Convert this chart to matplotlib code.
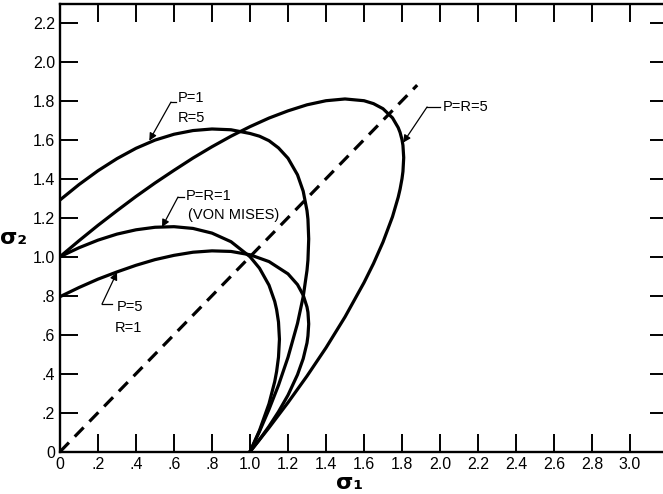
import matplotlib
matplotlib.use('Agg')
import matplotlib.pyplot as plt

# yield loci, going round each curve clockwise from the sigma2 axis
vm_s1 = [0, 0.1, 0.2, 0.3, 0.4, 0.5, 0.6, 0.7, 0.8, 0.9, 1.0, 1.05, 1.1, 1.13, 1.14, 1.15, 1.155,
         1.15, 1.14, 1.13, 1.1, 1.05, 1.0]
vm_s2 = [1.0, 1.046, 1.085, 1.116, 1.138, 1.151, 1.154, 1.145, 1.121, 1.077, 1.0, 0.941, 0.854, 0.771, 0.729, 0.665, 0.577,
         0.485, 0.411, 0.359, 0.246, 0.109, 0.0]

pr5_s1 = [0, 0.1, 0.2, 0.3, 0.4, 0.5, 0.6, 0.7, 0.8, 0.9, 1.0, 1.1, 1.2, 1.3, 1.4, 1.5, 1.6, 1.65, 1.7, 1.75, 1.78,
          1.79, 1.8, 1.805, 1.809, 1.805, 1.8, 1.79, 1.78, 1.75, 1.7, 1.65, 1.6, 1.5, 1.4, 1.3, 1.2, 1.1, 1.0]
pr5_s2 = [1.0, 1.082, 1.161, 1.236, 1.309, 1.378, 1.443, 1.506, 1.564, 1.618, 1.667, 1.711, 1.748, 1.779, 1.800, 1.809,
          1.800, 1.785, 1.759, 1.712, 1.662, 1.637, 1.600, 1.571, 1.508, 1.437, 1.400, 1.347, 1.305, 1.205, 1.075,
          0.965, 0.867, 0.691, 0.533, 0.388, 0.252, 0.123, 0.0]

p1r5_s1 = [0, 0.1, 0.2, 0.3, 0.4, 0.5, 0.6, 0.7, 0.8, 0.9, 1.0, 1.05, 1.1, 1.15, 1.2, 1.25, 1.28, 1.3, 1.305, 1.309,
           1.305, 1.3, 1.28, 1.25, 1.2, 1.15, 1.1, 1.05, 1.0]
p1r5_s2 = [1.291, 1.370, 1.441, 1.503, 1.556, 1.598, 1.628, 1.647, 1.655, 1.651, 1.632, 1.618, 1.595, 1.558, 1.505,
           1.420, 1.336, 1.236, 1.192, 1.091, 0.983, 0.930, 0.795, 0.658, 0.484, 0.341, 0.217, 0.104, 0.0]

p5r1_s1 = [0, 0.1, 0.2, 0.3, 0.4, 0.5, 0.6, 0.7, 0.8, 0.9, 1.0, 1.1, 1.2, 1.25, 1.28, 1.3, 1.305, 1.309,
           1.305, 1.3, 1.28, 1.25, 1.2, 1.15, 1.1, 1.05, 1.0]
p5r1_s2 = [0.795, 0.842, 0.885, 0.922, 0.956, 0.985, 1.007, 1.023, 1.030, 1.027, 1.010, 0.975, 0.912, 0.857, 0.803,
           0.742, 0.715, 0.655, 0.594, 0.558, 0.477, 0.395, 0.290, 0.205, 0.130, 0.062, 0.0]

# equal biaxial line
diag_s = [0, 1.88]

x_ticks = [0, 0.2, 0.4, 0.6, 0.8, 1.0, 1.2, 1.4, 1.6, 1.8, 2.0, 2.2, 2.4, 2.6, 2.8, 3.0]
x_tick_labels = ['0', '.2', '.4', '.6', '.8', '1.0', '1.2', '1.4', '1.6', '1.8', '2.0', '2.2', '2.4', '2.6', '2.8', '3.0']
y_ticks = [0, 0.2, 0.4, 0.6, 0.8, 1.0, 1.2, 1.4, 1.6, 1.8, 2.0, 2.2]
y_tick_labels = ['0', '.2', '.4', '.6', '.8', '1.0', '1.2', '1.4', '1.6', '1.8', '2.0', '2.2']

plt.rcParams['font.family'] = ['Liberation Sans', 'DejaVu Sans']


def leader(ax, tip, elbow, end):
    # thin pointer line with a small filled head on the curve
    ax.plot([elbow[0], end[0]], [elbow[1], end[1]], color='k', lw=0.9)
    ax.annotate('', xy=tip, xytext=elbow,
                arrowprops=dict(arrowstyle='-|>', color='k', lw=0.9, mutation_scale=11,
                                shrinkA=0, shrinkB=0))


fig = plt.figure(figsize=(6.63, 4.94), dpi=100)
# right spine sits just past the edge of the picture, like the scan
ax = fig.add_axes([60 / 663, 42.3 / 494, 3.2 * 190 / 663, 447.7 / 494])
ax.set_xlim(0, 3.2)
ax.set_ylim(0, 2.296)

lw = 2.3
ax.plot(vm_s1, vm_s2, color='k', lw=lw)
ax.plot(pr5_s1, pr5_s2, color='k', lw=lw)
ax.plot(p1r5_s1, p1r5_s2, color='k', lw=lw)
ax.plot(p5r1_s1, p5r1_s2, color='k', lw=lw)
ax.plot(diag_s, diag_s, color='k', lw=lw, linestyle=(0, (4, 2.6)))

# labels with pointers
leader(ax, (0.47, 1.595), (0.584, 1.793), (0.611, 1.793))
ax.text(0.618, 1.814, 'P=1', fontsize=10.5, va='center', ha='left')
ax.text(0.618, 1.711, 'R=5', fontsize=10.5, va='center', ha='left')

leader(ax, (0.537, 1.152), (0.621, 1.306), (0.652, 1.306))
ax.text(0.66, 1.31, 'P=R=1', fontsize=10.5, va='center', ha='left')
ax.text(0.672, 1.214, '(VON MISES)', fontsize=10.5, va='center', ha='left')

leader(ax, (0.30, 0.92), (0.221, 0.757), (0.274, 0.757))
ax.text(0.30, 0.742, 'P=5', fontsize=10.5, va='center', ha='left')
ax.text(0.29, 0.634, 'R=1', fontsize=10.5, va='center', ha='left')

leader(ax, (1.806, 1.585), (1.932, 1.768), (2.0, 1.768))
ax.text(2.016, 1.768, 'P=R=5', fontsize=10.5, va='center', ha='left')

# axes look
ax.set_xticks(x_ticks)
ax.set_xticklabels(x_tick_labels)
ax.set_yticks(y_ticks)
ax.set_yticklabels(y_tick_labels)
ax.tick_params(direction='in', length=13, width=1.4, top=True, right=True,
               labelsize=11.5, pad=3.5)
for s in ax.spines.values():
    s.set_linewidth(1.7)

fig.text(350 / 663, 1 - 483 / 494, 'σ₁', fontsize=16, fontweight='bold',
         family='DejaVu Sans', ha='center', va='center')
fig.text(14 / 663, 1 - 238 / 494, 'σ₂', fontsize=16, fontweight='bold',
         family='DejaVu Sans', ha='center', va='center')

fig.savefig('out.png', dpi=100)
